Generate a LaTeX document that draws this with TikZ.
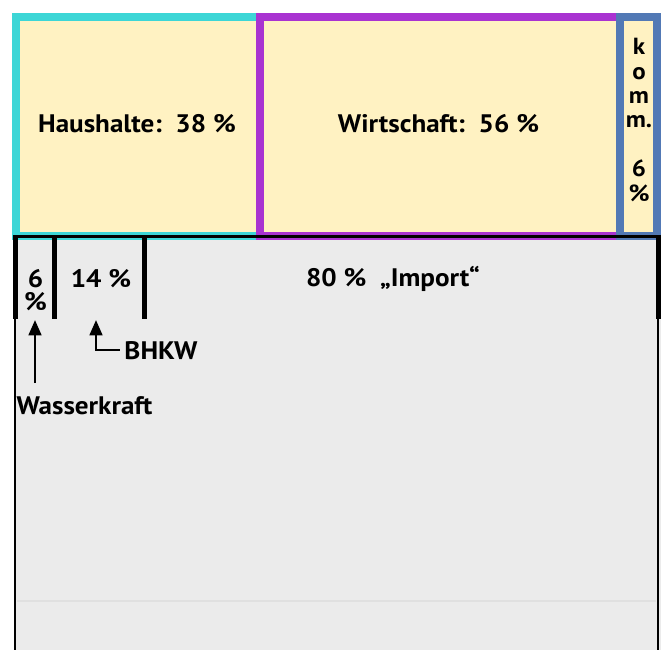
\documentclass[tikz,border=0pt]{standalone}
\usepackage{fontspec}
\setmainfont{PT Sans}[FakeStretch=1.07]
\usetikzlibrary{arrows.meta}
\definecolor{fillY}{HTML}{FFF2C2}
\definecolor{cyanC}{HTML}{3DD6D6}
\definecolor{purpC}{HTML}{A933D1}
\definecolor{blueC}{HTML}{5279B5}
\definecolor{grayF}{HTML}{EBEBEB}
\definecolor{faintL}{HTML}{E0E0E0}
\begin{document}
\begin{tikzpicture}[x=0.75pt,y=-0.75pt,
  topbox/.style={fill=fillY, line width=6pt},
  lbl/.style={font=\bfseries\fontsize{19}{17.25}\selectfont, inner sep=0pt, anchor=base},
  small/.style={font=\bfseries\fontsize{17.5}{18.3}\selectfont, inner sep=0pt, align=center, anchor=north},
  arr/.style={line width=1.9pt, -{Triangle[length=11.5pt,width=9.5pt]}},
  bar/.style={line width=3.8pt},
  rim/.style={line width=1.9pt}]
\useasboundingbox (0,0) rectangle (661,650);
\clip (0,0) rectangle (661,650);
% lower area
\fill[grayF] (14,238) rectangle (661,660);
\draw[faintL, line width=0.8pt] (17,601) -- (656,601);
% top boxes
\draw[topbox, draw=cyanC] (16,17) rectangle (260,235.5);
\draw[topbox, draw=purpC] (260,17) rectangle (620,235.5);
\draw[topbox, draw=blueC] (620,17) rectangle (657,235.5);
% lower box outline and bars
\draw[rim] (15,660) -- (15,237) -- (658,237) -- (658,660);
\draw[line width=2.8pt] (13,236.5) -- (661,236.5);
\draw[bar] (15.5,236) -- (15.5,319);
\draw[bar] (54.5,236) -- (54.5,319);
\draw[bar] (144.5,236) -- (144.5,319);
\draw[bar] (658.3,236) -- (658.3,319);
% texts
\node[lbl] (hh) at (137,132) {Haushalte:\ \ 38 \%};
\node[lbl] (ws) at (438.5,132) {Wirtschaft:\ \ 56 \%};
\node[small] (km) at (639,38) {k\\o\\m\\m.\\[18.3pt]6\\\%};
\node[lbl, align=center, anchor=north] (w6) at (35.5,269) {6\\\%};
\node[lbl] (b14) at (101,287) {14 \%};
\node[lbl] (imp) at (393,286) {80 \%\ \ „Import“};
\node[lbl] (bh) at (161,359) {BHKW};
\node[lbl] (wk) at (84.5,414) {Wasserkraft};
% arrows
\coordinate (wkT) at (35,383);
\coordinate (wkH) at (35,320);
\draw[arr] (wkT) -- (wkH);
\coordinate (bhH) at (96,320);
\draw[arr] ([xshift=-3.5pt]bh.west) -| (bhH);
\end{tikzpicture}
\end{document}
